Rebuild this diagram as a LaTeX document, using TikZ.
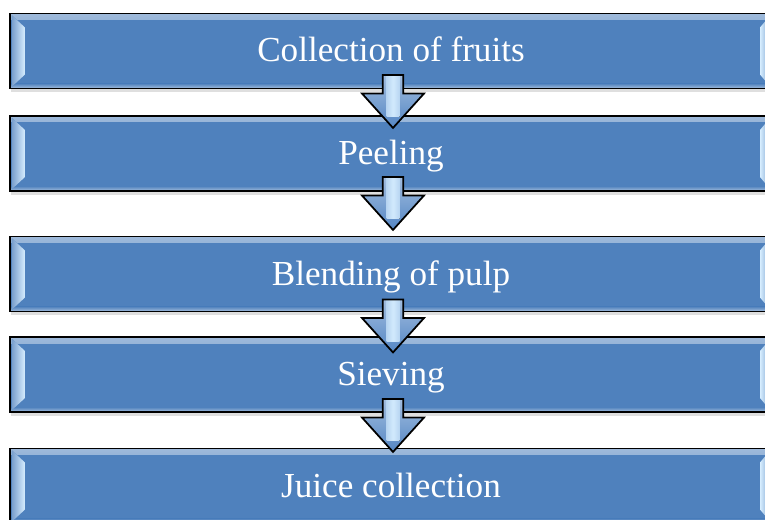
\documentclass[tikz,border=0pt]{standalone}
\usepackage{fontspec}
\setmainfont{Liberation Serif}
\usetikzlibrary{calc, shapes.arrows, shadows}

\definecolor{boxblue}{RGB}{79,129,189}
\definecolor{bevellight}{RGB}{215,238,255}
\definecolor{arrowblue}{RGB}{84,134,196}
\definecolor{arrowlight}{RGB}{210,234,253}

\tikzset{
    stagebox/.style={rectangle, draw=black, line width=1.1pt, fill=boxblue,
        minimum width=152.4mm, minimum height=15mm, text=white,
        text height=6mm, text depth=1.6mm,
        font=\fontsize{20}{24}\selectfont,
        drop shadow={shadow xshift=0.2mm, shadow yshift=-0.7mm, opacity=0.25},
        path picture={
            % top and bottom faces
            \fill[top color=boxblue!55!white, bottom color=boxblue]
                (path picture bounding box.north west) rectangle
                ([yshift=-1.2mm]path picture bounding box.north east);
            \fill[bottom color=boxblue!50!white, top color=boxblue]
                (path picture bounding box.south west) rectangle
                ([yshift=1mm]path picture bounding box.south east);
            % left face
            \fill[left color=boxblue!75!white, right color=bevellight]
                ([xshift=0.4mm,yshift=-0.4mm]path picture bounding box.north west) --
                ([xshift=3mm,yshift=-2.8mm]path picture bounding box.north west) --
                ([xshift=3mm,yshift=2.8mm]path picture bounding box.south west) --
                ([xshift=0.4mm,yshift=0.4mm]path picture bounding box.south west) -- cycle;
            % right face
            \fill[right color=boxblue!75!white, left color=bevellight]
                ([xshift=-0.4mm,yshift=-0.4mm]path picture bounding box.north east) --
                ([xshift=-2.4mm,yshift=-2.8mm]path picture bounding box.north east) --
                ([xshift=-2.4mm,yshift=2.8mm]path picture bounding box.south east) --
                ([xshift=-0.4mm,yshift=0.4mm]path picture bounding box.south east) -- cycle;
        }},
    flowarrow/.style={single arrow, draw=black, line width=1pt,
        shape border rotate=270, inner sep=1.8mm,
        minimum height=10.6mm, minimum width=12.4mm,
        single arrow head extend=4mm, single arrow tip angle=84,
        top color=arrowblue!55!white, bottom color=arrowblue,
        path picture={
            % light stripe down the shaft
            \fill[left color=arrowblue, right color=arrowblue, middle color=arrowlight]
                ([xshift=-1.3mm]path picture bounding box.north) rectangle
                ([xshift=1.3mm,yshift=2.2mm]path picture bounding box.south);
        }}
}

\begin{document}
\begin{tikzpicture}[x=0.2mm, y=-0.2mm]

    \clip (0,0) rectangle (765,519);
    \useasboundingbox (0,0) rectangle (765,519);

    % PROCESS STAGES
    \node[stagebox] (s1) at (391,51) {Collection of fruits};
    \node[stagebox] (s2) at (391,153.5) {Peeling};
    \node[stagebox] (s3) at (391,274) {Blending of pulp};
    \node[stagebox] (s4) at (391,374.5) {Sieving};
    \node[stagebox] (s5) at (391,486) {Juice collection};

    % DOWN ARROWS BETWEEN STAGES
    \node[flowarrow, xshift=0.4mm, yshift=1.3mm]
        (a1) at ($(s1.south)!0.5!(s2.north)$) {};
    \node[flowarrow, xshift=0.4mm, yshift=3.2mm]
        (a2) at ($(s2.south)!0.5!(s3.north)$) {};
    \node[flowarrow, xshift=0.4mm, yshift=0.8mm]
        (a3) at ($(s3.south)!0.5!(s4.north)$) {};
    \node[flowarrow, xshift=0.4mm, yshift=2.1mm]
        (a4) at ($(s4.south)!0.5!(s5.north)$) {};

\end{tikzpicture}
\end{document}
